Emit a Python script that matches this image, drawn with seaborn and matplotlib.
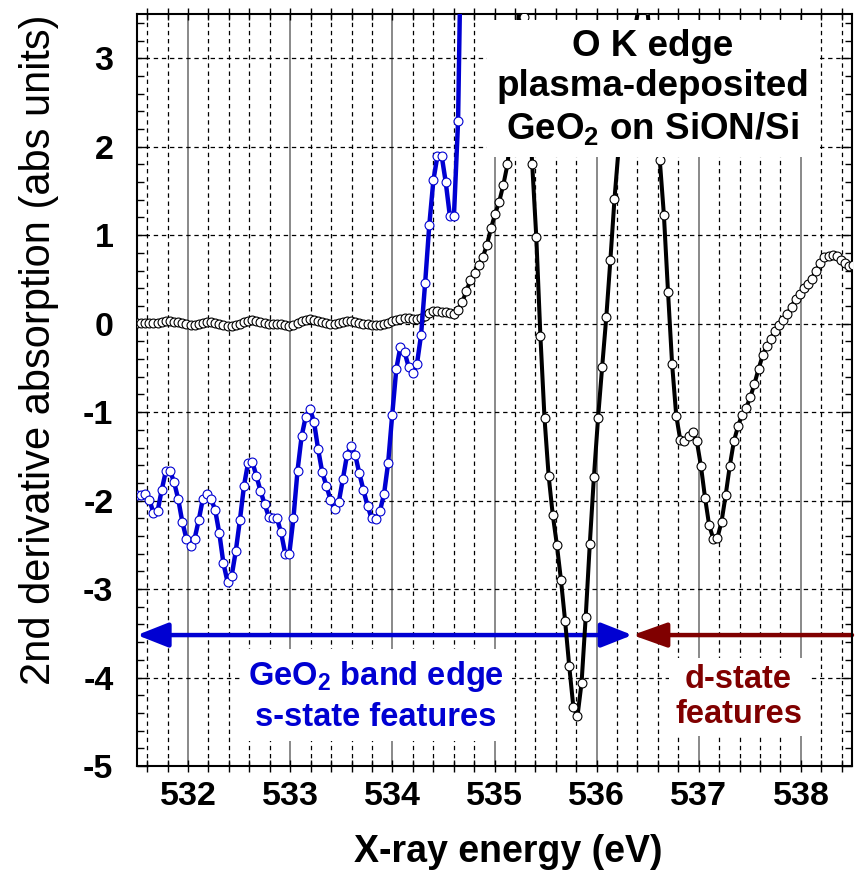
import numpy as np
import pandas as pd
import matplotlib
matplotlib.use("Agg")
import matplotlib.pyplot as plt
import seaborn as sns
from matplotlib.ticker import MultipleLocator

# Energy sampling of both spectra (eV)
E_START = 531.50
E_STEP = 0.0403

# 2nd derivative of the O K edge absorption (black, open circles)
o_k_edge = [
    0.01, 0.01, 0.01, 0.01, 0.01, 0.01, 0.02, 0.03, 0.03, 0.02,
    0.015, 0.01, 0.0, -0.01, -0.01, 0.0, 0.01, 0.015, 0.015, 0.01,
    0.0, -0.02, -0.03, -0.03, -0.015, 0.0, 0.02, 0.035, 0.04, 0.025,
    0.015, 0.01, 0.0, 0.0, 0.0, -0.005, -0.01, -0.03, -0.02, 0.01,
    0.035, 0.045, 0.05, 0.045, 0.03, 0.015, 0.005, 0.0, 0.0, 0.005,
    0.02, 0.03, 0.03, 0.02, 0.01, 0.0, -0.005, -0.01, -0.01, -0.01,
    -0.005, 0.01, 0.03, 0.045, 0.055, 0.06, 0.06, 0.05, 0.05, 0.06,
    0.09, 0.12, 0.14, 0.14, 0.13, 0.13, 0.12, 0.11,
    0.15, 0.24, 0.37, 0.49, 0.57, 0.66, 0.75, 0.89, 1.08, 1.24, 1.38, 1.57,
    1.80, 2.25, 2.85, 3.75, 3.47, 2.65, 1.81, 0.98, -0.14,
    -1.07, -1.72, -2.16, -2.50, -2.90, -3.36, -3.87, -4.33, -4.44, -4.06,
    -3.32, -2.49, -1.73, -1.07, -0.49, 0.07, 0.72, 1.41,
    1.98, 2.4, 2.8, 3.1, 3.35, 3.6, 3.75, 3.55, 3.0, 2.4, 1.85, 1.23, 0.36,
    -0.46, -1.04, -1.32, -1.33, -1.27, -1.23, -1.33, -1.61, -1.97, -2.28,
    -2.43, -2.42, -2.24, -1.94, -1.61, -1.33, -1.16, -1.03, -0.95, -0.83,
    -0.68, -0.51, -0.36,
    -0.25, -0.17, -0.08, -0.02, 0.04, 0.11, 0.19, 0.28, 0.34, 0.40,
    0.45, 0.51, 0.60, 0.68,
    0.75, 0.77, 0.78, 0.76, 0.72, 0.68, 0.65, 0.66,
]

# GeO2 band edge region, scaled 2nd derivative (blue)
geo2_edge = [
    -1.94, -1.94, -1.92, -1.99, -2.14, -2.12, -1.88, -1.67, -1.66, -1.79,
    -1.98, -2.24, -2.43, -2.51, -2.43, -2.22, -1.98, -1.92, -1.98, -2.11,
    -2.37, -2.71, -2.92, -2.85, -2.57, -2.22, -1.83, -1.57, -1.56, -1.72,
    -1.89, -2.04, -2.18, -2.20, -2.20, -2.36, -2.60, -2.60, -2.20, -1.66,
    -1.27, -1.05, -0.96, -1.11, -1.42, -1.68, -1.83, -1.99, -2.10, -2.02,
    -1.76, -1.49, -1.38, -1.48, -1.69, -1.88, -2.06, -2.20, -2.21, -2.12,
    -1.93, -1.58, -1.03, -0.51, -0.26, -0.32, -0.49, -0.56, -0.46, -0.13,
    0.46, 1.11, 1.62, 1.90, 1.90, 1.60, 1.22, 1.22, 2.29, 5.2,
]

x_ticks = [532, 533, 534, 535, 536, 537, 538]
y_ticks = [-5, -4, -3, -2, -1, 0, 1, 2, 3]

title_lines = ["O K edge", "plasma-deposited", r"GeO$_\mathbf{2}$ on SiON/Si"]
s_label = "GeO$_\\mathbf{2}$ band edge\ns-state features"
d_label = "d-state\nfeatures"

arrow_y = -3.52
s_span = (531.5, 536.35)
d_span = (538.5, 536.35)

BLUE = "#0000d2"
DARK_RED = "#800000"

sns.set_theme(style="white")
plt.rcParams["font.family"] = ["Liberation Sans", "DejaVu Sans"]
plt.rcParams["axes.unicode_minus"] = False
plt.rcParams["mathtext.fontset"] = "custom"
plt.rcParams["mathtext.rm"] = "Liberation Sans"
plt.rcParams["mathtext.bf"] = "Liberation Sans:bold"
for key in ("text.color", "axes.labelcolor", "xtick.color", "ytick.color",
            "xtick.labelcolor", "ytick.labelcolor"):
    plt.rcParams[key] = "black"

df_o = pd.DataFrame({"energy": E_START + E_STEP * np.arange(len(o_k_edge)),
                     "d2": o_k_edge})
df_g = pd.DataFrame({"energy": E_START + E_STEP * np.arange(len(geo2_edge)),
                     "d2": geo2_edge})

fig = plt.figure(figsize=(8.6, 8.74), dpi=100)
ax = fig.add_axes([137 / 860, 1 - 766 / 874, 715 / 860, 752 / 874])

sns.lineplot(data=df_o, x="energy", y="d2", ax=ax, color="black",
             linewidth=2.9, marker="o", markersize=6.4,
             markerfacecolor="white", markeredgecolor="black",
             markeredgewidth=0.8, estimator=None, sort=False, zorder=3)
sns.lineplot(data=df_g, x="energy", y="d2", ax=ax, color=BLUE,
             linewidth=3.2, marker="o", markersize=6.4,
             markerfacecolor="white", markeredgecolor=BLUE,
             markeredgewidth=0.8, estimator=None, sort=False, zorder=4)

ax.set_xlim(531.5, 538.5)
ax.set_ylim(-5, 3.5)
ax.set_xticks(x_ticks, labels=[str(t) for t in x_ticks],
              fontsize=24.5, fontweight="bold", color="black")
ax.set_yticks(y_ticks, labels=[str(t) for t in y_ticks],
              fontsize=24.5, fontweight="bold", color="black")
ax.xaxis.set_minor_locator(MultipleLocator(0.2))
ax.yaxis.set_minor_locator(MultipleLocator(0.2))

ax.grid(False)
ax.xaxis.grid(True, which="major", color="#808080", linewidth=1.3, linestyle="-")
ax.xaxis.grid(True, which="minor", color="black", linewidth=0.9,
              linestyle=(0, (3.5, 3)))
ax.yaxis.grid(True, which="major", color="black", linewidth=0.9,
              linestyle=(0, (3.5, 3)))
ax.set_axisbelow(True)

ax.tick_params(axis="x", which="both", direction="inout", top=True,
               bottom=True, length=9, width=1, color="black", pad=6)
ax.tick_params(axis="y", which="major", direction="in", left=True,
               right=True, length=8, width=1, color="black", pad=17)
ax.tick_params(axis="y", which="minor", direction="in", left=True,
               right=True, length=5, width=1, color="black")
for side in ax.spines.values():
    side.set_color("black")
    side.set_linewidth(1.5)
    side.set_visible(True)

ax.set_xlabel("X-ray energy (eV)", fontsize=27, fontweight="bold",
              va="center", color="black")
ax.xaxis.set_label_coords(0.519, -0.114)
ax.set_ylabel("2nd derivative absorption (abs units)", fontsize=30,
              va="center", color="black")
ax.yaxis.set_label_coords(-0.137, 0.553)

# Energy-range arrows
ax.annotate("", xy=(s_span[0], arrow_y), xytext=(s_span[1], arrow_y),
            arrowprops=dict(arrowstyle="<|-|>,head_length=1.9,head_width=0.75",
                            color=BLUE, lw=3.2, shrinkA=0, shrinkB=0,
                            mutation_scale=10),
            annotation_clip=False, zorder=2)
ax.annotate("", xy=(d_span[1], arrow_y), xytext=(d_span[0], arrow_y),
            arrowprops=dict(arrowstyle="-|>,head_length=2.1,head_width=0.75",
                            color=DARK_RED, lw=3.2, shrinkA=0, shrinkB=0,
                            mutation_scale=10),
            annotation_clip=False, zorder=2)

ax.text(533.84, -4.21, s_label, ha="center", va="center", fontsize=23.5,
        fontweight="bold", color=BLUE, linespacing=1.35, zorder=5,
        bbox=dict(facecolor="white", edgecolor="none", boxstyle="square,pad=0.25"))
ax.text(537.39, -4.22, d_label, ha="center", va="center", fontsize=23.5,
        fontweight="bold", color=DARK_RED, linespacing=1.15, zorder=5,
        bbox=dict(facecolor="white", edgecolor="none", boxstyle="square,pad=0.2"))

ax.text(536.55, 2.66, "\n".join(title_lines), ha="center", va="center",
        fontsize=26.5, fontweight="bold", color="black", linespacing=1.22,
        zorder=6,
        bbox=dict(facecolor="white", edgecolor="none", boxstyle="square,pad=0.25"))

fig.savefig("out.png", dpi=100)
